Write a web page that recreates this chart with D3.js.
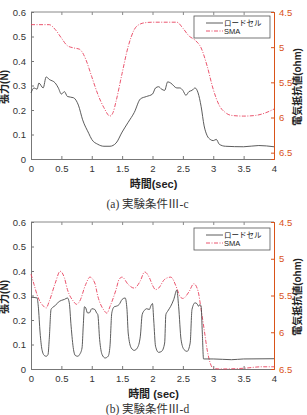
<!DOCTYPE html>
<html>
<head>
<meta charset="utf-8">
<script src="https://cdn.jsdelivr.net/npm/d3@7"></script>
<style>
  body { margin: 0; background: #fff; }
  svg text { font-family: "Liberation Sans", "Noto Sans CJK JP", sans-serif; }
  .cap { font-family: "Liberation Serif", "Noto Sans CJK JP", serif !important; }
</style>
</head>
<body>
<svg id="chart" width="307" height="415"></svg>
<script>
// time (sec) and values
const timeA = [0, 0.05, 0.1, 0.13, 0.2, 0.25, 0.3, 0.4, 0.45, 0.5, 0.55, 0.6, 0.7, 0.78, 0.85, 0.95, 1.0, 1.1, 1.2, 1.3, 1.4, 1.5, 1.6, 1.7, 1.8, 1.9, 2.0, 2.05, 2.1, 2.15, 2.2, 2.25, 2.3, 2.4, 2.45, 2.5, 2.55, 2.6, 2.65, 2.7, 2.75, 2.8, 2.85, 2.9, 2.95, 3.0, 3.05, 3.1, 3.2, 3.5, 3.75, 4.0];
const loadA = [0.27, 0.29, 0.285, 0.31, 0.29, 0.335, 0.325, 0.31, 0.29, 0.265, 0.275, 0.255, 0.25, 0.22, 0.16, 0.105, 0.08, 0.06, 0.052, 0.052, 0.065, 0.11, 0.15, 0.19, 0.245, 0.255, 0.265, 0.29, 0.295, 0.285, 0.28, 0.315, 0.31, 0.29, 0.29, 0.28, 0.26, 0.275, 0.28, 0.29, 0.27, 0.215, 0.135, 0.095, 0.08, 0.075, 0.08, 0.06, 0.052, 0.05, 0.055, 0.05];

const smaTimeA = [0, 0.3, 0.4, 0.5, 0.6, 0.7, 0.8, 0.85, 0.9, 1.0, 1.1, 1.2, 1.3, 1.35, 1.4, 1.5, 1.6, 1.7, 1.8, 1.9, 2.0, 2.4, 2.5, 2.6, 2.7, 2.8, 2.9, 3.0, 3.1, 3.2, 3.3, 3.5, 3.7, 3.9, 4.0];
const smaA = [4.68, 4.68, 4.75, 4.87, 4.98, 5.01, 5.03, 5.08, 5.17, 5.42, 5.67, 5.86, 5.98, 5.93, 5.77, 5.37, 4.99, 4.75, 4.67, 4.65, 4.645, 4.645, 4.73, 4.84, 4.9, 5.01, 5.27, 5.6, 5.83, 5.93, 5.97, 5.98, 5.97, 5.92, 5.88];

const timeB = [0, 0.1, 0.12, 0.15, 0.18, 0.22, 0.25, 0.28, 0.3, 0.33, 0.36, 0.4, 0.45, 0.5, 0.55, 0.6, 0.63, 0.66, 0.7, 0.73, 0.77, 0.8, 0.84, 0.86, 0.88, 0.9, 0.93, 0.96, 1.0, 1.05, 1.08, 1.1, 1.13, 1.17, 1.22, 1.27, 1.3, 1.33, 1.37, 1.4, 1.45, 1.5, 1.55, 1.58, 1.6, 1.65, 1.7, 1.75, 1.8, 1.83, 1.87, 1.9, 1.95, 1.97, 2.0, 2.02, 2.05, 2.1, 2.15, 2.2, 2.22, 2.25, 2.3, 2.35, 2.4, 2.43, 2.47, 2.52, 2.57, 2.62, 2.65, 2.7, 2.73, 2.76, 2.78, 2.8, 2.82, 2.84, 3.0, 3.3, 3.5, 4.0];
const loadB = [0.293, 0.29, 0.256, 0.147, 0.08, 0.055, 0.052, 0.059, 0.12, 0.243, 0.252, 0.259, 0.273, 0.28, 0.284, 0.29, 0.27, 0.175, 0.079, 0.055, 0.052, 0.059, 0.086, 0.175, 0.254, 0.25, 0.229, 0.229, 0.246, 0.243, 0.229, 0.222, 0.12, 0.059, 0.045, 0.052, 0.093, 0.229, 0.254, 0.256, 0.263, 0.284, 0.29, 0.243, 0.147, 0.086, 0.076, 0.086, 0.134, 0.222, 0.24, 0.246, 0.243, 0.256, 0.267, 0.2, 0.093, 0.068, 0.072, 0.106, 0.222, 0.236, 0.256, 0.284, 0.322, 0.256, 0.12, 0.079, 0.072, 0.106, 0.243, 0.27, 0.267, 0.256, 0.263, 0.256, 0.147, 0.041, 0.041, 0.038, 0.041, 0.042];

const smaTimeB = [0, 0.05, 0.1, 0.2, 0.25, 0.3, 0.4, 0.48, 0.55, 0.6, 0.7, 0.75, 0.8, 0.9, 0.97, 1.05, 1.1, 1.2, 1.25, 1.3, 1.4, 1.45, 1.5, 1.6, 1.7, 1.8, 1.87, 1.95, 2.0, 2.05, 2.1, 2.2, 2.3, 2.4, 2.45, 2.5, 2.6, 2.68, 2.75, 2.8, 2.85, 2.9, 2.95, 3.0, 3.1, 3.5, 3.8, 4.0];
const smaB = [5.21, 5.35, 5.49, 5.64, 5.67, 5.58, 5.33, 5.17, 5.26, 5.42, 5.58, 5.62, 5.58, 5.35, 5.25, 5.33, 5.51, 5.7, 5.74, 5.65, 5.42, 5.28, 5.25, 5.35, 5.4, 5.3, 5.18, 5.26, 5.36, 5.42, 5.4, 5.28, 5.25, 5.4, 5.51, 5.54, 5.45, 5.34, 5.44, 5.69, 5.96, 6.24, 6.42, 6.49, 6.5, 6.49, 6.47, 6.47];

const xTicks = [0, 0.5, 1, 1.5, 2, 2.5, 3, 3.5, 4];
const leftTicks = [0, 0.1, 0.2, 0.3, 0.4, 0.5, 0.6];
const rightTicks = [4.5, 5, 5.5, 6, 6.5];
const seriesNames = ["ロードセル", "SMA"];

const orange = "#d95319";
const red = "#e8425e";
const svg = d3.select("#chart");

function panel(top, tA, lA, tS, sS, rightMax, legendTop, xTitle, caption, capY) {
  const margin = { left: 31, top: top },
    width = 243,
    height = 147;
  const g = svg.append("g").attr("transform", `translate(${margin.left},${margin.top})`);

  const x = d3.scaleLinear().domain([0, 4]).range([0, width]);
  const y = d3.scaleLinear().domain([0, 0.6]).range([height, 0]);
  const y2 = d3.scaleLinear().domain([4.5, rightMax]).range([0, height]);

  // top border with small ticks
  g.append("line").attr("x1", 0).attr("x2", width).attr("y1", 0).attr("y2", 0)
    .attr("stroke", "#888").attr("stroke-width", 1);
  g.append("g")
    .call(d3.axisTop(x).tickValues(xTicks).tickSize(-3).tickFormat(""))
    .call((a) => a.select(".domain").remove())
    .selectAll("line").attr("stroke", "#888");

  const ax = g.append("g").attr("transform", `translate(0,${height})`)
    .call(d3.axisBottom(x).tickValues(xTicks).tickSize(-3).tickPadding(6).tickFormat(d3.format("")));
  ax.select(".domain").attr("stroke", "#777");
  ax.selectAll("line").attr("stroke", "#777");
  ax.selectAll("text").attr("font-size", 9.5).attr("fill", "#333");

  const ay = g.append("g")
    .call(d3.axisLeft(y).tickValues(leftTicks).tickSize(-3).tickPadding(5).tickFormat((d) => d === 0 ? "0" : d3.format(".1f")(d)));
  ay.select(".domain").attr("stroke", "#777");
  ay.selectAll("line").attr("stroke", "#777");
  ay.selectAll("text").attr("font-size", 9.5).attr("fill", "#333");

  const ay2 = g.append("g").attr("transform", `translate(${width},0)`)
    .call(d3.axisRight(y2).tickValues(rightTicks).tickSize(-3).tickPadding(5).tickFormat((d) => d3.format("")(d)));
  ay2.select(".domain").attr("stroke", orange);
  ay2.selectAll("line").attr("stroke", orange);
  ay2.selectAll("text").attr("font-size", 9.5).attr("fill", orange);

  const line = d3.line().curve(d3.curveMonotoneX);

  g.append("path")
    .attr("d", line(tS.map((t, i) => [x(t), y2(sS[i])])))
    .attr("fill", "none").attr("stroke", red).attr("stroke-width", 0.9)
    .attr("stroke-dasharray", "4,1.5,1,1.5");

  g.append("path")
    .attr("d", line(tA.map((t, i) => [x(t), y(lA[i])])))
    .attr("fill", "none").attr("stroke", "#4a4a4a").attr("stroke-width", 0.9);

  // legend
  const lg = g.append("g").attr("transform", `translate(163,${legendTop})`);
  lg.append("rect").attr("width", 76).attr("height", 22)
    .attr("fill", "#fff").attr("stroke", "#555").attr("stroke-width", 0.8);
  seriesNames.forEach((name, i) => {
    lg.append("line").attr("x1", 12).attr("x2", 29).attr("y1", 7 + i * 8).attr("y2", 7 + i * 8)
      .attr("stroke", i === 0 ? "#4a4a4a" : red).attr("stroke-width", 0.9)
      .attr("stroke-dasharray", i === 0 ? null : "4,1.5,1,1.5");
    lg.append("text").attr("x", 30).attr("y", 7 + i * 8).attr("dy", "0.35em")
      .attr("font-size", 7.5).attr("fill", "#222").text(name);
  });

  g.append("text")
    .attr("x", width / 2 + 1).attr("y", height + 29)
    .attr("text-anchor", "middle").attr("font-size", 11).attr("font-weight", "bold")
    .attr("fill", "#222").text(xTitle);

  g.append("text")
    .attr("transform", `translate(${-23},${height * 0.51}) rotate(-90)`)
    .attr("text-anchor", "middle").attr("font-size", 10).attr("font-weight", "bold")
    .attr("fill", "#222").text("張力(N)");

  g.append("text")
    .attr("transform", `translate(${width + 27},${height * 0.51}) rotate(-90)`)
    .attr("text-anchor", "middle").attr("font-size", 10).attr("font-weight", "bold")
    .attr("fill", "#222").text("電気抵抗値(ohm)");

  g.append("text").attr("class", "cap")
    .attr("x", width / 2 - 5).attr("y", capY - top)
    .attr("text-anchor", "middle").attr("font-size", 11.5)
    .attr("fill", "#333").text(caption);
}

panel(12, timeA, loadA, smaTimeA, smaA, 6.59, 4, "時間(sec)", "(a)  実験条件Ⅲ-c", 208);
panel(222, timeB, loadB, smaTimeB, smaB, 6.5, 6, "時間 (sec)", "(b)  実験条件Ⅲ-d", 413);
</script>
</body>
</html>
